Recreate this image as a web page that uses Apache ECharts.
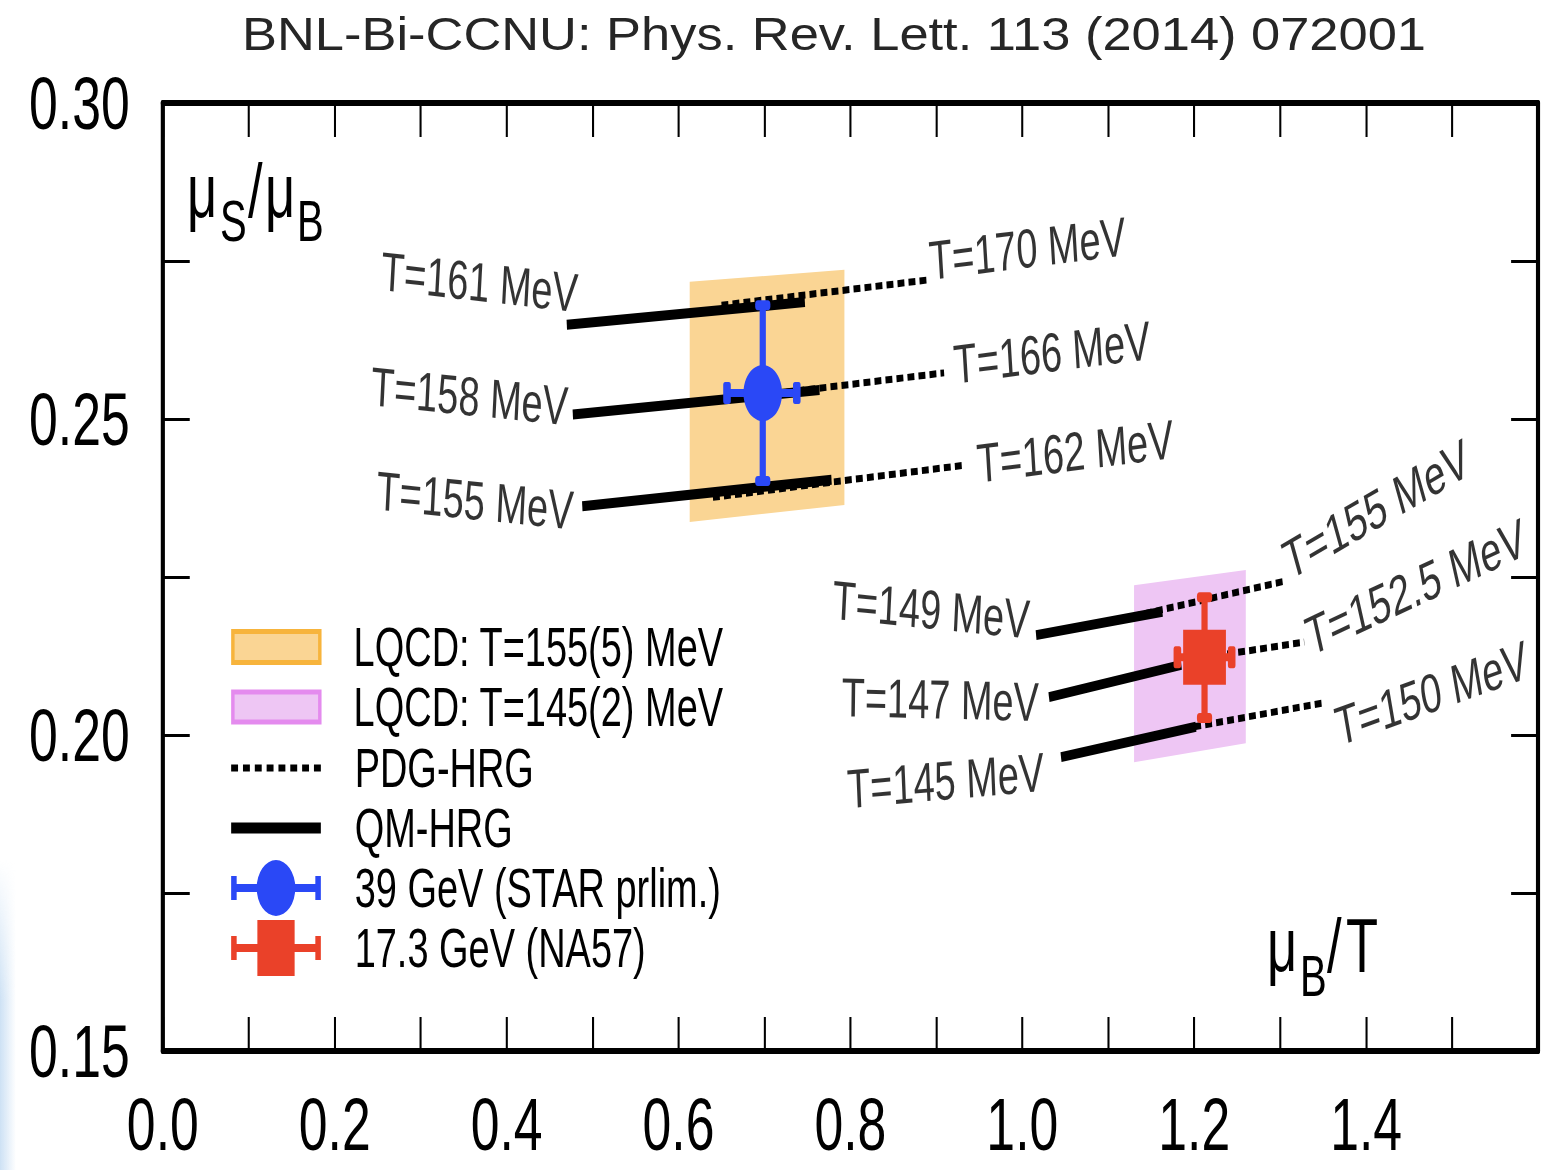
<!DOCTYPE html>
<html><head><meta charset="utf-8">
<script src="https://cdn.jsdelivr.net/npm/echarts@6/dist/echarts.min.js"></script>
<style>
html,body{margin:0;padding:0;background:#fff;overflow:hidden;}
#wrap{position:relative;width:1542px;height:1170px;overflow:hidden;background:#fff;}
#edge{position:absolute;left:0;top:860px;width:16px;height:310px;
  background:linear-gradient(to right, rgba(200,222,243,0.9), rgba(255,255,255,0));
  -webkit-mask-image:linear-gradient(to bottom, rgba(0,0,0,0), rgba(0,0,0,1) 45%);
  mask-image:linear-gradient(to bottom, rgba(0,0,0,0), rgba(0,0,0,1) 45%);}
#chart{position:absolute;left:0;top:0;width:2235px;height:1170px;transform:scaleX(0.69);transform-origin:0 0;}
</style></head>
<body><div id="wrap"><div id="edge"></div><div id="chart"></div></div>
<script>
// ---------------- data ----------------
const xTickLabels = ['0.0','0.2','0.4','0.6','0.8','1.0','1.2','1.4'];
const yTickLabels = ['0.15','0.20','0.25','0.30'];

// QM-HRG (solid) lines: [x0, y0, x1, y1]
const qmNames = ['T=161 MeV','T=158 MeV','T=155 MeV','T=149 MeV','T=147 MeV','T=145 MeV'];
const qmLines = [
  [0.470, 0.2649, 0.747, 0.2685],
  [0.477, 0.2507, 0.764, 0.2546],
  [0.488, 0.2362, 0.778, 0.2404],
  [1.016, 0.2158, 1.163, 0.2195],
  [1.031, 0.2060, 1.185, 0.2111],
  [1.045, 0.1965, 1.202, 0.2013]
];
// PDG-HRG (dotted) lines: [x0, y0, x1, y1]
const pdgNames = ['T=170 MeV','T=166 MeV','T=162 MeV','T=155 MeV','T=152.5 MeV','T=150 MeV'];
const pdgLines = [
  [0.650, 0.2680, 0.890, 0.2720],
  [0.700, 0.2538, 0.909, 0.2573],
  [0.640, 0.2376, 0.933, 0.2427],
  [1.130, 0.2188, 1.307, 0.2244],
  [1.200, 0.2120, 1.328, 0.2147],
  [1.200, 0.2013, 1.351, 0.2051]
];
// LQCD bands: [xLeft, xRight, yTopLeft, yBottomLeft, yTopRight, yBottomRight]
const band155 = [0.613, 0.793, 0.2717, 0.2337, 0.2736, 0.2364];
const band145 = [1.130, 1.260, 0.2237, 0.1957, 0.2261, 0.1987];
// data points: [x, y, xLow, xHigh, yLow, yHigh]
const star39 = [0.698, 0.2541, 0.656, 0.738, 0.2402, 0.2680];
const na57   = [1.212, 0.2123, 1.180, 1.244, 0.2027, 0.2218];

const names = {
  band155: 'LQCD: T=155(5) MeV',
  band145: 'LQCD: T=145(2) MeV',
  pdg: 'PDG-HRG',
  qm: 'QM-HRG',
  star: '39 GeV (STAR prlim.)',
  na57: '17.3 GeV (NA57)'
};
const titleText = 'BNL-Bi-CCNU: Phys. Rev. Lett. 113 (2014) 072001';

// ---------------- styles ----------------
const S = 0.69;               // horizontal squash of the reference picture
const FONT = "'Liberation Sans', Arial, Helvetica, sans-serif";
const ORANGE_FILL = '#FAD594', ORANGE_EDGE = '#F7B43C';
const PINK_FILL = '#EEC6F4', PINK_EDGE = '#E48BEE';
const BLUE = '#2A48F6', RED = '#EA4129';

const leftLab = [
  {r:-4.5, o:[14,-33]},
  {r:-4,   o:[-7,-8]},
  {r:-4,   o:[-12,5]},
  {r:-4,   o:[-10,-15]},
  {r:-1,   o:[-14,5]},
  {r:3.5,  o:[-25,13]}
];
const rightLab = [
  {r:5,  o:[3,-19]},
  {r:5,  o:[14,-7]},
  {r:5,  o:[17,0]},
  {r:22, o:[4,-18]},
  {r:18, o:[4,-3]},
  {r:14, o:[10,28]}
];

function bandSeries(name, band, fill) {
  return {
    type: 'custom', name: name, data: [band], z: 1, silent: true,
    itemStyle: {color: fill},
    renderItem: function (params, api) {
      const xl = api.value(0), xr = api.value(1);
      const pts = [
        api.coord([xl, api.value(2)]), api.coord([xr, api.value(4)]),
        api.coord([xr, api.value(5)]), api.coord([xl, api.value(3)])
      ];
      return {type: 'polygon', shape: {points: pts}, style: {fill: fill}};
    }
  };
}

function errSeries(name, pt, color) {
  return {
    type: 'custom', name: name, data: [pt], z: 5, silent: true,
    itemStyle: {color: color},
    renderItem: function (params, api) {
      const c = api.coord([api.value(0), api.value(1)]);
      const lo = api.coord([api.value(2), api.value(1)]);
      const hi = api.coord([api.value(3), api.value(1)]);
      const yl = api.coord([api.value(0), api.value(4)]);
      const yh = api.coord([api.value(0), api.value(5)]);
      return {type: 'group', children: [
        {type: 'line', shape: {x1: c[0], y1: yl[1], x2: c[0], y2: yh[1]}, style: {stroke: color, lineWidth: 9}},
        {type: 'line', shape: {x1: lo[0], y1: c[1], x2: hi[0], y2: c[1]}, style: {stroke: color, lineWidth: 8}},
        {type: 'rect', shape: {x: c[0] - 11, y: yh[1] - 5, width: 22, height: 10, r: 4}, style: {fill: color}},
        {type: 'rect', shape: {x: c[0] - 11, y: yl[1] - 5, width: 22, height: 10, r: 4}, style: {fill: color}},
        {type: 'rect', shape: {x: lo[0] - 5, y: c[1] - 11, width: 11, height: 22, r: 3}, style: {fill: color}},
        {type: 'rect', shape: {x: hi[0] - 6, y: c[1] - 11, width: 11, height: 22, r: 3}, style: {fill: color}}
      ]};
    }
  };
}

const series = [];
series.push(bandSeries(names.band155, band155, ORANGE_FILL));
series.push(bandSeries(names.band145, band145, PINK_FILL));
pdgLines.forEach(function (l) {
  series.push({type: 'line', name: names.pdg, data: [[l[0], l[1]], [l[2], l[3]]],
    symbol: 'none', z: 3, silent: true, color: '#000',
    itemStyle: {color: '#000'},
    lineStyle: {color: '#000', width: 7, type: [10, 6], cap: 'butt'}});
});
qmLines.forEach(function (l) {
  series.push({type: 'line', name: names.qm, data: [[l[0], l[1]], [l[2], l[3]]],
    symbol: 'none', z: 4, silent: true, color: '#000',
    itemStyle: {color: '#000'},
    lineStyle: {color: '#000', width: 10, type: 'solid', cap: 'butt'}});
});
series.push(errSeries(names.star, star39, BLUE));
series.push(errSeries(names.na57, na57, RED));
series.push({type: 'scatter', name: names.star, data: [[star39[0], star39[1]]], symbol: 'circle',
  symbolSize: 56, z: 6, silent: true, itemStyle: {color: BLUE, opacity: 1}});
series.push({type: 'scatter', name: names.na57, data: [[na57[0], na57[1]]], symbol: 'rect',
  symbolSize: [62, 55], z: 6, silent: true, itemStyle: {color: RED, opacity: 1}});

// text labels at line ends
const labelData = [];
qmLines.forEach(function (l, i) {
  labelData.push({value: [l[0], l[1]], label: {show: true, formatter: qmNames[i], position: 'left',
    distance: 0, rotate: leftLab[i].r, offset: leftLab[i].o}});
});
pdgLines.forEach(function (l, i) {
  labelData.push({value: [l[2], l[3]], label: {show: true, formatter: pdgNames[i], position: 'right',
    distance: 0, rotate: rightLab[i].r, offset: rightLab[i].o}});
});
series.push({type: 'scatter', name: 'labels', data: labelData, symbolSize: 1, z: 7, silent: true,
  itemStyle: {color: 'rgba(0,0,0,0)'},
  label: {fontSize: 55, fontFamily: FONT, color: '#000'}});

// ---------------- legend ----------------
const dotPath = (function () {
  let p = 'path://';
  for (let i = 0; i < 8; i++) {
    const x0 = (i * 120 / 7).toFixed(2), x1 = (i * 120 / 7 + 10).toFixed(2);
    p += 'M' + x0 + ' 0L' + x1 + ' 0L' + x1 + ' 7L' + x0 + ' 7Z';
  }
  return p;
})();
const starIcon = 'path://M0 16L8 16L8 24L122 24L122 16L130 16L130 40L122 40L122 32L8 32L8 40L0 40Z' +
  'M37 28A28 28 0 1 1 93 28A28 28 0 1 1 37 28Z';
const naIcon = 'path://M0 16L8 16L8 24L122 24L122 16L130 16L130 40L122 40L122 32L8 32L8 40L0 40Z' +
  'M38 0L92 0L92 56L38 56Z';

function legendRow(name, yc, icon, w, h, itemStyle) {
  return {
    data: [{name: name, icon: icon, itemStyle: itemStyle}],
    left: 335, top: yc - 28, padding: 0, orient: 'vertical',
    itemWidth: w, itemHeight: h, symbolKeepAspect: false,
    selectedMode: false,
    textStyle: {fontSize: 55, fontFamily: FONT, color: '#000', lineHeight: 56, padding: [0, 0, 0, 44]}
  };
}
const legends = [
  legendRow(names.band155, 647, 'rect', 126, 31, {color: ORANGE_FILL, borderColor: ORANGE_EDGE, borderWidth: 5}),
  legendRow(names.band145, 707, 'rect', 126, 30, {color: PINK_FILL, borderColor: PINK_EDGE, borderWidth: 5}),
  legendRow(names.pdg, 768, dotPath, 130, 7, {color: '#000', borderWidth: 0}),
  legendRow(names.qm, 828, 'rect', 130, 11, {color: '#000', borderWidth: 0}),
  legendRow(names.star, 888, starIcon, 130, 56, {color: BLUE, borderWidth: 0}),
  legendRow(names.na57, 948, naIcon, 130, 56, {color: RED, borderWidth: 0})
];

// ---------------- graphic texts ----------------
function piece(text, xRef, baseline, size) {
  return {type: 'text', x: xRef / S, y: baseline - 0.35 * size, z: 20, silent: true,
    style: {text: text, fontSize: size, fontFamily: FONT, fill: '#000',
      align: 'left', verticalAlign: 'middle', textAlign: 'left', textVerticalAlign: 'middle'}};
}
const graphics = [
  {type: 'text', x: 834 / S, y: 34, scaleX: 1.14 / S, z: 20, silent: true,
    style: {text: titleText, fontSize: 46, fontFamily: FONT, fill: '#262626',
      align: 'center', verticalAlign: 'middle', textAlign: 'center', textVerticalAlign: 'middle'}},
  piece('\u03BC', 187, 217, 76), piece('S', 220, 242, 58), piece('/', 248, 217, 76),
  piece('\u03BC', 265, 217, 76), piece('B', 297, 242, 58),
  piece('\u03BC', 1267, 971, 76), piece('B', 1300, 997, 58), piece('/', 1327, 972, 76),
  piece('T', 1346, 972, 76)
];

// ---------------- axes ----------------
const axLine = {show: true, onZero: false, lineStyle: {color: '#000', width: 6}};
function xAx(pos, labels) {
  return {type: 'value', position: pos, min: 0, max: 1.6, interval: 0.1,
    axisLine: axLine,
    axisTick: {show: true, inside: true, length: 34, lineStyle: {color: '#000', width: 3}},
    axisLabel: {show: labels, margin: 36, fontSize: 75, fontFamily: FONT, color: '#000',
      showMaxLabel: true, showMinLabel: true,
      formatter: function (v) { const s = v.toFixed(1); return xTickLabels.indexOf(s) >= 0 ? s : ''; }},
    splitLine: {show: false}};
}
function yAx(pos, labels) {
  return {type: 'value', position: pos, min: 0.15, max: 0.30, interval: 0.025,
    axisLine: axLine,
    axisTick: {show: true, inside: true, length: 39, lineStyle: {color: '#000', width: 3}},
    axisLabel: {show: labels, margin: 48, fontSize: 75, fontFamily: FONT, color: '#000',
      showMaxLabel: true, showMinLabel: true,
      formatter: function (v) { const s = v.toFixed(2); return yTickLabels.indexOf(s) >= 0 ? s : ''; }},
    splitLine: {show: false}};
}

const option = {
  animation: false,
  backgroundColor: 'transparent',
  textStyle: {fontFamily: FONT},
  grid: {left: 236, right: 6, top: 103, bottom: 119, containLabel: false, outerBoundsMode: 'none'},
  xAxis: [xAx('bottom', true), xAx('top', false)],
  yAxis: [yAx('left', true), yAx('right', false)],
  legend: legends,
  graphic: {elements: graphics},
  series: series
};

const chart = echarts.init(document.getElementById('chart'), null, {renderer: 'svg', width: 2235, height: 1170});
chart.setOption(option);
</script></body></html>
